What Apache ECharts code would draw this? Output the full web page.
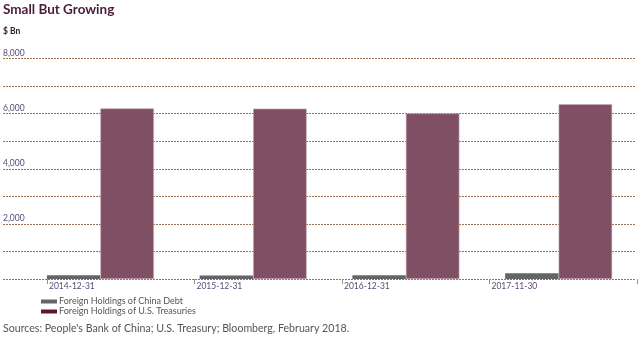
<!DOCTYPE html>
<html>
<head>
<meta charset="utf-8">
<script src="https://cdn.jsdelivr.net/npm/echarts@6/dist/echarts.min.js"></script>
<style>
html,body{margin:0;padding:0;background:#fff;}
#c{width:640px;height:339px;}
</style>
</head>
<body>
<div id="c"></div>
<script>
const categories = ['2014-12-31', '2015-12-31', '2016-12-31', '2017-11-30'];
const chinaDebt = [140, 130, 140, 210];
const usTreasuries = [6190, 6180, 6010, 6340];
const yTickLabels = {2000: '2,000', 4000: '4,000', 6000: '6,000', 8000: '8,000'};
const seriesNames = ['Foreign Holdings of China Debt', 'Foreign Holdings of U.S. Treasuries'];

const FONT = 'Lato, "Open Sans", sans-serif';
const chart = echarts.init(document.getElementById('c'), null, {renderer: 'canvas'});
chart.setOption({
  animation: false,
  backgroundColor: '#fff',
  title: [
    {text: 'Small But Growing', left: 3, top: 3, padding: 0,
     textStyle: {fontFamily: FONT, fontSize: 13.5, fontWeight: 'bold', color: '#4a1c3c'}},
    {text: '$ Bn', left: 3, top: 27, padding: 0,
     textStyle: {fontFamily: FONT, fontSize: 8.5, fontWeight: 'bold', color: '#2e1a2a'}},
    {text: "Sources: People's Bank of China; U.S. Treasury; Bloomberg, February 2018.", left: 3, top: 323, padding: 0,
     textStyle: {fontFamily: FONT, fontSize: 10.6, fontWeight: 'normal', color: '#555555'}}
  ],
  legend: {
    orient: 'vertical', left: 36, top: 292, itemWidth: 16, itemHeight: 4, itemGap: 1,
    icon: 'rect',
    textStyle: {fontFamily: FONT, fontSize: 9, color: '#555555', padding: [0, 0, 0, -3]},
    data: [
      {name: seriesNames[0], itemStyle: {color: '#636668', borderWidth: 0}},
      {name: seriesNames[1], itemStyle: {color: '#5a1730', borderWidth: 0}}
    ]
  },
  grid: [
    {left: 24, right: 5, top: 58.5, bottom: 60},
    {left: 3, right: 4, top: 58.5, bottom: 60},
    {left: 47, right: -18, top: 58.5, bottom: 60}
  ],
  xAxis: [
    {type: 'category', gridIndex: 0, data: categories, show: false},
    {type: 'value', gridIndex: 1, show: false},
    {type: 'category', gridIndex: 2, data: categories.concat(['']), boundaryGap: false,
     axisLine: {show: false},
     axisTick: {show: true, length: 5, lineStyle: {color: '#a89080'}},
     axisLabel: {align: 'left', margin: 3, padding: [0, 0, 0, 2], fontFamily: FONT, fontSize: 8.5, color: '#5a4a7a'}}
  ],
  yAxis: [
    {type: 'value', gridIndex: 0, min: 0, max: 8000, show: false},
    {type: 'value', gridIndex: 1, min: 0, max: 8000, interval: 1000,
     axisLine: {show: false}, axisTick: {show: false},
     splitLine: {show: true, lineStyle: {color: '#9a7256', type: [2, 1], width: 1}},
     axisLabel: {inside: true, margin: 0, verticalAlign: 'bottom', padding: [0, 0, 1, 0],
       fontFamily: FONT, fontSize: 8.5, color: '#5a4a7a',
       formatter: v => yTickLabels[v] || ''}},
    {type: 'value', gridIndex: 2, min: 0, max: 8000, show: false}
  ],
  series: [
    {name: seriesNames[0], type: 'bar', xAxisIndex: 0, yAxisIndex: 0, data: chinaDebt,
     barWidth: 53.5, barGap: '0%', itemStyle: {color: '#636668'}},
    {name: seriesNames[1], type: 'bar', xAxisIndex: 0, yAxisIndex: 0, data: usTreasuries,
     barWidth: 53.5, barGap: '0%',
     itemStyle: {color: '#7f4f63', borderColor: '#c7a8b5', borderWidth: 0.6}}
  ]
});
</script>
</body>
</html>
